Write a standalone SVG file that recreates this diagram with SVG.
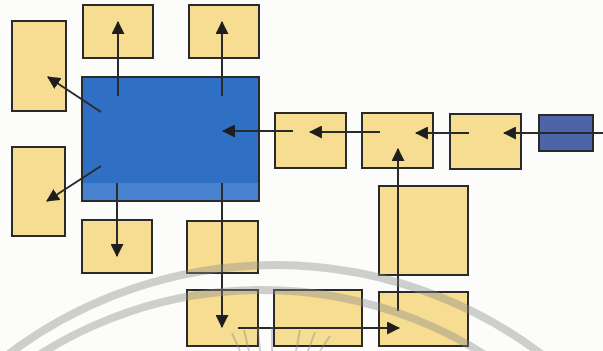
<svg xmlns="http://www.w3.org/2000/svg" width="603" height="351" viewBox="0 0 603 351">
  <style>
    .box { fill: #f6dd92; stroke: #2a2a2a; stroke-width: 2; }
    .hub { fill: #2f6fc4; stroke: #2a2a2a; stroke-width: 2; }
    .src { fill: #4d64a8; stroke: #2a2a2a; stroke-width: 2; }
    .link { fill: none; stroke: #2a2a2a; stroke-width: 2; marker-end: url(#head); }
    .wm { fill: none; stroke: #8a8a8a; stroke-opacity: 0.4; }
  </style>
  <defs>
    <marker id="head" viewBox="0 0 12 12" refX="11" refY="6" markerWidth="6.5" markerHeight="6.5" orient="auto" markerUnits="strokeWidth">
      <path d="M0,0 L12,6 L0,12 Z" fill="#1e1e1e"/>
    </marker>
  </defs>
  <rect width="603" height="351" fill="#fcfcfa"/>

  <!-- central block -->
  <g id="hub">
    <rect class="hub" x="82" y="77" width="177" height="124"/>
    <rect x="83" y="183" width="175" height="17" fill="#5a92d6" opacity="0.55"/>
  </g>

  <!-- surrounding blocks -->
  <g id="left-top"><rect class="box" x="12" y="21" width="54" height="90"/></g>
  <g id="left-bottom"><rect class="box" x="12" y="147" width="53" height="89"/></g>
  <g id="top-1"><rect class="box" x="83" y="5" width="70" height="53"/></g>
  <g id="top-2"><rect class="box" x="189" y="5" width="70" height="53"/></g>
  <g id="below-1"><rect class="box" x="82" y="220" width="70" height="53"/></g>
  <g id="below-2"><rect class="box" x="187" y="221" width="71" height="52"/></g>
  <g id="chain-a"><rect class="box" x="275" y="113" width="71" height="55"/></g>
  <g id="chain-b"><rect class="box" x="362" y="113" width="71" height="55"/></g>
  <g id="chain-c"><rect class="box" x="450" y="114" width="71" height="55"/></g>
  <g id="source"><rect class="src" x="539" y="115" width="54" height="36"/></g>
  <g id="tall"><rect class="box" x="379" y="186" width="89" height="89"/></g>
  <g id="bottom-1"><rect class="box" x="187" y="290" width="71" height="56"/></g>
  <g id="bottom-2"><rect class="box" x="274" y="290" width="88" height="56"/></g>
  <g id="bottom-3"><rect class="box" x="379" y="292" width="89" height="54"/></g>

  <!-- connectors -->
  <g id="connectors">
    <line class="link" x1="118" y1="96" x2="118" y2="22"/>
    <line class="link" x1="222" y1="96" x2="222" y2="22"/>
    <line class="link" x1="101" y1="112" x2="48" y2="77"/>
    <line class="link" x1="101" y1="166" x2="47" y2="201"/>
    <line class="link" x1="117" y1="183" x2="117" y2="256"/>
    <line class="link" x1="222" y1="183" x2="222" y2="327"/>
    <line class="link" x1="603" y1="133" x2="504" y2="133"/>
    <line class="link" x1="469" y1="133" x2="416" y2="133"/>
    <line class="link" x1="380" y1="132" x2="310" y2="132"/>
    <line class="link" x1="293" y1="131" x2="223" y2="131"/>
    <line class="link" x1="398" y1="311" x2="398" y2="149"/>
    <line class="link" x1="238" y1="328" x2="399" y2="328"/>
  </g>

  <!-- faint seal lines across the lower edge -->
  <g id="seal">
    <circle class="wm" cx="275" cy="707" r="442" stroke-width="8"/>
    <circle class="wm" cx="262" cy="705" r="415" stroke-width="8"/>
    <g class="wm" stroke-width="2">
      <line x1="232" y1="333" x2="240" y2="351"/>
      <line x1="244" y1="330" x2="249" y2="351"/>
      <line x1="258" y1="328" x2="260" y2="351"/>
      <line x1="272" y1="327" x2="272" y2="351"/>
      <line x1="300" y1="330" x2="296" y2="351"/>
      <line x1="315" y1="332" x2="308" y2="351"/>
      <line x1="330" y1="336" x2="320" y2="351"/>
    </g>
  </g>
</svg>
